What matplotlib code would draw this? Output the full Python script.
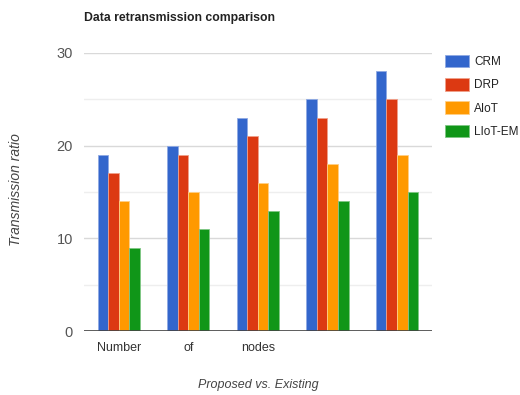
import numpy as np
import matplotlib.pyplot as plt
from matplotlib.patches import Patch

plt.rcParams['font.family'] = ['Liberation Sans', 'DejaVu Sans']

# retransmission ratio per method, one value per node-count group
groups = ['Number', 'of', 'nodes', '', '']
crm = [19, 20, 23, 25, 28]
drp = [17, 19, 21, 23, 25]
aiot = [14, 15, 16, 18, 19]
liot_em = [9, 11, 13, 14, 15]

series = [('CRM', crm, '#3366cc', '#8fa9e3'),
          ('DRP', drp, '#dc3912', '#f0a08a'),
          ('AIoT', aiot, '#ff9900', '#ffcf85'),
          ('LIoT-EM', liot_em, '#109618', '#7fc784')]

fig = plt.figure(figsize=(5.2, 3.95), dpi=100)
ax = fig.add_axes([0.1615, 0.162, 0.669, 0.704])

x = np.arange(len(groups))
w = 0.152
for i, (name, vals, col, edge) in enumerate(series):
    ax.bar(x + (i - 1.5) * w, vals, width=w, color=col, edgecolor=edge,
           linewidth=0.6, zorder=3)

ax.set_xlim(-0.5, 4.5)
ax.set_ylim(0, 30)
ax.set_yticks([0, 10, 20, 30])
ax.set_yticks([5, 15, 25], minor=True)
ax.grid(axis='y', which='major', color='#d9d9d9', linewidth=1, zorder=0)
ax.grid(axis='y', which='minor', color='#eeeeee', linewidth=1, zorder=0)
ax.axhline(0, color='#444444', linewidth=1.2, zorder=4)
for s in ax.spines.values():
    s.set_visible(False)
ax.tick_params(axis='both', which='both', length=0)
ax.tick_params(axis='y', labelsize=10.5, labelcolor='#555555', pad=8)
ax.tick_params(axis='x', labelsize=9, labelcolor='#333333', pad=8)

ax.set_xticks(x)
ax.set_xticklabels(groups)

fig.text(16 / 520, 1 - 190 / 395, 'Transmission ratio', fontsize=10,
         style='italic', color='#444444', rotation=90,
         ha='center', va='center')
ax.set_xlabel('Proposed vs. Existing', fontsize=9, style='italic',
              color='#444444', labelpad=18)

fig.text(0.1615, 0.955, 'Data retransmission comparison', fontsize=8.8,
         fontweight='bold', color='#222222', va='center', ha='left')

handles = [Patch(facecolor=c, edgecolor=e, linewidth=0.6) for _, _, c, e in series]
fig.legend(handles, [s[0] for s in series], loc='upper left',
           bbox_to_anchor=(445 / 520, 1 - 55 / 395), frameon=False, fontsize=8.5,
           handlelength=2.0, handleheight=1.25, handletextpad=0.45,
           labelspacing=0.85, borderaxespad=0, borderpad=0,
           labelcolor='#222222')

fig.savefig('out.png', dpi=100)
